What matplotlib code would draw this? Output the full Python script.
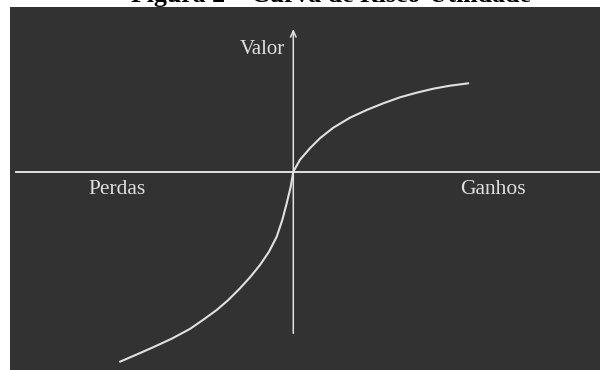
import matplotlib.pyplot as plt

# curva valor x ganhos/perdas (unidades arbitrárias)
ganhos_x = [0, 6.7, 16.7, 26.7, 40, 56.7, 73.4, 90, 106.7, 123.4, 140, 156.7, 175]
ganhos_y = [0, 12, 23.5, 33.5, 44, 54, 61.7, 68.4, 74.4, 79, 83, 86, 88.4]
perdas_x = [-173.3, -156.6, -140, -121.6, -103.3, -90, -76.6, -65, -53.3,
            -43.3, -33.3, -24.3, -16.6, -11, -6.6, -2.6, 0]
perdas_y = [-190, -182.8, -175.5, -167, -157.2, -148, -138.3, -128.3, -116.6,
            -105.6, -93.3, -80, -65, -48.3, -31.6, -15, 0]

titulo = "Figura 2 – Curva de Risco-Utilidade"
lbl_y = "Valor"
lbl_perdas = "Perdas"
lbl_ganhos = "Ganhos"

bg = "#323232"
fg = "#e0e0e0"
serif = ["Liberation Serif", "DejaVu Serif"]

fig = plt.figure(figsize=(6, 3.7), dpi=100)
fig.patch.set_facecolor("white")

ax = fig.add_axes([10 / 600, 0, 590 / 600, 363 / 370])
ax.set_facecolor(bg)
ax.set_xlim(-283.3, 306.7)
ax.set_ylim(-198.3, 164.7)
for s in ax.spines.values():
    s.set_visible(False)
ax.set_xticks([])
ax.set_yticks([])

# eixos
ax.plot([-277.3, 306.7], [0, 0], color=fg, lw=1.4)
ax.annotate("", xy=(0, 142.7), xytext=(0, -161.6),
            arrowprops=dict(arrowstyle="->,head_length=0.45,head_width=0.2",
                            color=fg, lw=1.1, shrinkA=0, shrinkB=0))

# curva
ax.plot(perdas_x + ganhos_x[1:], perdas_y + ganhos_y[1:], color=fg, lw=1.5,
        solid_capstyle="round", solid_joinstyle="round")

ax.text(-8.3, 122.4, lbl_y, color=fg, fontsize=15, family=serif,
        ha="right", va="center")
ax.text(-175.8, -18.3, lbl_perdas, color=fg, fontsize=15.5, family=serif,
        ha="center", va="center")
ax.text(199.7, -18.3, lbl_ganhos, color=fg, fontsize=15.5, family=serif,
        ha="center", va="center")

# título cortado no topo, como na imagem original
fig.text(330.5 / 600, 1 - 2 / 370, titulo, fontsize=18.5, family=serif,
         fontweight="bold", color="black", ha="center", va="baseline")

fig.savefig("out.png", dpi=100, facecolor="white")
